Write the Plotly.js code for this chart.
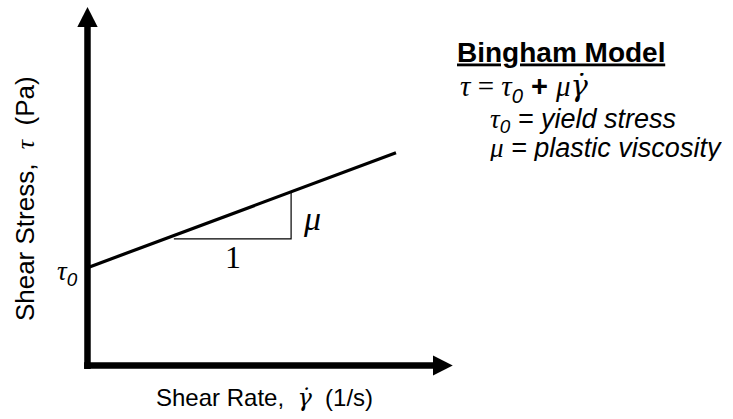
<!DOCTYPE html>
<html>
<head>
<meta charset="utf-8">
<script src="https://cdn.plot.ly/plotly-3.0.1.min.js"></script>
<style>
  body { margin: 0; background: #fff; }
  #plot { width: 733px; height: 419px; }
</style>
</head>
<body>
<div id="plot"></div>
<script>
// Bingham line: shear stress vs shear rate (arbitrary units)
var shearRate = [0, 10];
var shearStress = [2, 4.35];

// slope triangle under the line
var triX = [2.8, 6.6, 6.6];
var triY = [2.59, 2.59, 3.55];

// axis extents (end of shaft, arrow tip)
var xShaftEnd = 11.2, xTip = 11.84;
var yShaftEnd = 6.92, yTip = 7.33;

var serif = "'Liberation Serif', 'Times New Roman', serif";
var sans = "'Liberation Sans', Arial, sans-serif";

// Create the line trace
var trace1 = {
  x: shearRate,
  y: shearStress,
  mode: "lines",
  line: { color: "#000", width: 3.2 },
  hoverinfo: "skip"
};

// Slope triangle
var trace2 = {
  x: triX,
  y: triY,
  mode: "lines",
  line: { color: "#000", width: 1.2 },
  hoverinfo: "skip"
};

var data = [trace1, trace2];

function sr(t) {
  return "<span style=\"font-family:Liberation Serif\">" + t + "</span>";
}
// gamma-dot needs a font that places the combining dot
function gdot() {
  return "<span style=\"font-family:DejaVu Serif\"><i>γ̇</i></span>";
}

var layout = {
  width: 733,
  height: 419,
  margin: { l: 0, r: 0, t: 0, b: 0 },
  paper_bgcolor: "#fff",
  plot_bgcolor: "#fff",
  showlegend: false,
  xaxis: { range: [-2.836, 20.924], visible: false, fixedrange: true },
  yaxis: { range: [-1.094, 7.474], visible: false, fixedrange: true },
  shapes: [
    // y axis shaft
    { type: "line", xref: "x", yref: "y", x0: 0, x1: 0, y0: -0.07, y1: yShaftEnd,
      line: { color: "#000", width: 6.5 } },
    // y axis arrow head
    { type: "path", xref: "x", yref: "y",
      path: "M -0.33 " + yShaftEnd + " L 0.33 " + yShaftEnd + " L 0 " + yTip + " Z",
      fillcolor: "#000", line: { color: "#000", width: 0 } },
    // x axis shaft
    { type: "line", xref: "x", yref: "y", x0: -0.11, x1: xShaftEnd, y0: 0, y1: 0,
      line: { color: "#000", width: 6.5 } },
    // x axis arrow head
    { type: "path", xref: "x", yref: "y",
      path: "M " + xShaftEnd + " -0.205 L " + xShaftEnd + " 0.205 L " + xTip + " 0 Z",
      fillcolor: "#000", line: { color: "#000", width: 0 } }
  ],
  annotations: [
    { x: 4.72, y: 2.22, text: "1", showarrow: false,
      font: { family: serif, size: 32, color: "#000" } },
    { x: 7.28, y: 3.0, text: "<i>μ</i>", showarrow: false,
      font: { family: serif, size: 34, color: "#000" } },
    { x: -0.66, y: 1.9, text: "<i>" + sr("τ") + "<sub>0</sub></i>", showarrow: false,
      font: { family: sans, size: 27, color: "#000" } },
    // axis titles
    { x: 5.75, y: -0.66, text: "Shear Rate,  " + gdot() + "  (1/s)", showarrow: false,
      font: { family: sans, size: 24, color: "#000" } },
    { x: -2.03, y: 3.42, text: "Shear Stress,  " + sr("<i>τ</i>") + "  (Pa)", showarrow: false,
      textangle: -90, font: { family: sans, size: 26, color: "#000" } },
    // model description
    { x: 11.91, y: 6.42, xanchor: "left", text: "<b><u>Bingham Model</u></b>", showarrow: false,
      height: 32, font: { family: sans, size: 28, color: "#000" } },
    { x: 12.0, y: 5.67, xanchor: "left",
      text: sr("<i>τ</i> = <i>τ</i>") + "<i><sub>0</sub></i> <b>+</b> " + sr("<i>μ</i>") + gdot(),
      showarrow: false, height: 30, font: { family: sans, size: 29, color: "#000" } },
    { x: 12.98, y: 5.01, xanchor: "left",
      text: "<i>" + sr("τ") + "<sub>0</sub> = yield stress</i>", showarrow: false,
      height: 27, font: { family: sans, size: 27, color: "#000" } },
    { x: 12.95, y: 4.45, xanchor: "left",
      text: "<i>" + sr("μ") + " = plastic viscosity</i>", showarrow: false,
      height: 27, font: { family: sans, size: 27, color: "#000" } }
  ]
};

Plotly.newPlot("plot", data, layout, { displayModeBar: false, staticPlot: true });
</script>
</body>
</html>
